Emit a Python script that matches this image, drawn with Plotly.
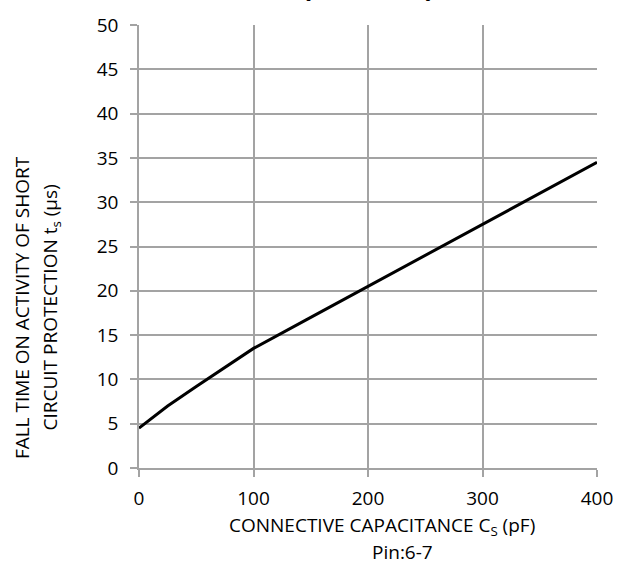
import plotly.graph_objects as go

cap_pf = [0, 25, 50, 100, 150, 200, 250, 300, 350, 400]
fall_us = [4.5, 7.0, 9.2, 13.5, 17.0, 20.5, 24.0, 27.5, 31.0, 34.5]

x_ticks = [0, 100, 200, 300, 400]
y_ticks = [0, 5, 10, 15, 20, 25, 30, 35, 40, 45, 50]

title_text = "(TYPICAL)"
x_title_1 = "CONNECTIVE CAPACITANCE C<sub>S</sub> (pF)"
x_title_2 = "Pin:6-7"
y_title_1 = "FALL TIME ON ACTIVITY OF SHORT"
y_title_2 = "CIRCUIT PROTECTION t<sub>s</sub> (µs)"

FONT = "Open Sans"
GRID = "#A3A3A3"

fig = go.Figure()
fig.add_trace(go.Scatter(x=cap_pf, y=fall_us, mode="lines",
                         line=dict(color="black", width=3), showlegend=False,
                         hoverinfo="skip"))

W, H = 625, 569
L, R, T, B = 139, 19, 20, 101
pw = W - L - R
ph = H - T - B

fig.update_layout(
    width=W, height=H,
    margin=dict(l=L, r=R, t=T, b=B),
    paper_bgcolor="white", plot_bgcolor="white",
    font=dict(family=FONT, color="black", size=19),
    xaxis=dict(range=[0, 400], tickvals=x_ticks, ticks="outside", ticklen=7,
               tickcolor=GRID, tickwidth=1.5, showgrid=True, gridcolor=GRID,
               gridwidth=1.5, showline=True, linecolor=GRID, linewidth=1.5,
               mirror=False, zeroline=False, tickfont=dict(size=19),
               ticklabelstandoff=5),
    yaxis=dict(range=[0, 50], tickvals=y_ticks, ticks="outside", ticklen=7,
               tickcolor=GRID, tickwidth=1.5, showgrid=True, gridcolor=GRID,
               gridwidth=1.5, showline=True, linecolor=GRID, linewidth=1.5,
               zeroline=False, tickfont=dict(size=19), ticklabelstandoff=8),
)

def px_x(p):
    return (p - L) / pw

def px_y(p):
    return 1 - (p - T) / ph

ann = []
ann.append(dict(text="<b>" + title_text + "</b>", xref="paper", yref="paper",
                x=0.5, y=1, yanchor="bottom", yshift=18, showarrow=False,
                font=dict(size=28, family=FONT)))
ann.append(dict(text=x_title_1, xref="paper", yref="paper", x=px_x(387), y=px_y(527),
                xanchor="center", yanchor="middle", showarrow=False,
                font=dict(size=19, family=FONT)))
ann.append(dict(text=x_title_2, xref="paper", yref="paper", x=px_x(408), y=px_y(553),
                xanchor="center", yanchor="middle", showarrow=False,
                font=dict(size=19, family=FONT)))
ann.append(dict(text=y_title_1, xref="paper", yref="paper", x=px_x(19), y=px_y(306),
                xanchor="center", yanchor="middle", textangle=-90, showarrow=False,
                font=dict(size=19, family=FONT)))
ann.append(dict(text=y_title_2, xref="paper", yref="paper", x=px_x(49), y=px_y(306),
                xanchor="center", yanchor="middle", textangle=-90, showarrow=False,
                font=dict(size=19, family=FONT)))
fig.update_layout(annotations=ann)

fig.write_html("out.html", config={"displayModeBar": False},
               post_script="document.body.style.margin='0';")
